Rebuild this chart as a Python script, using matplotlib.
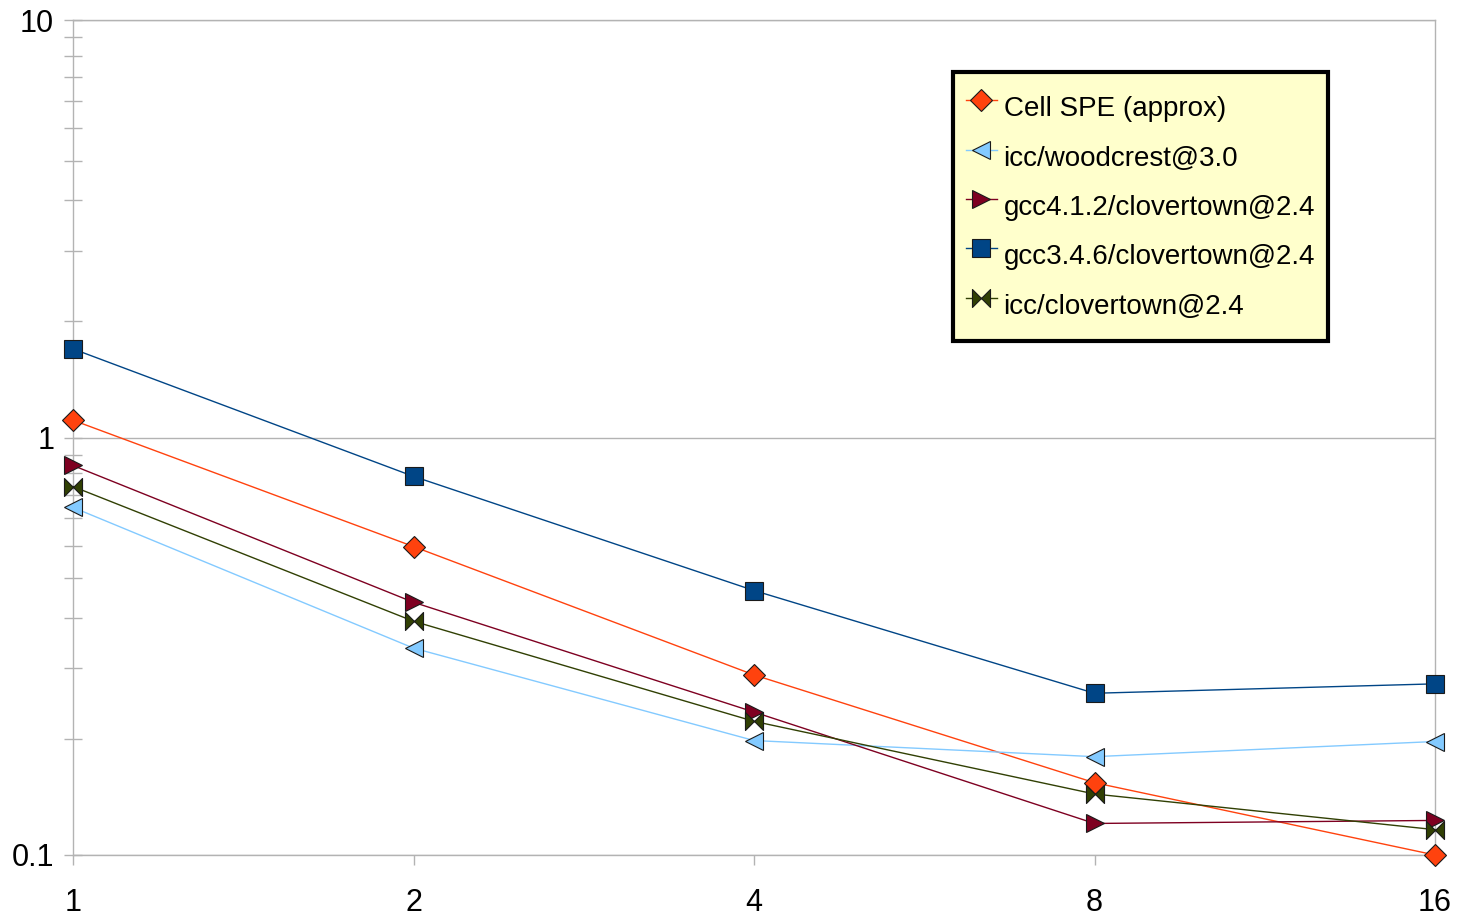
import numpy as np
import matplotlib
matplotlib.use('Agg')
from matplotlib import pyplot as plt
from matplotlib.path import Path
from matplotlib.ticker import NullFormatter, FixedLocator

plt.rcParams['font.family'] = ['Liberation Sans', 'DejaVu Sans']

threads = ['1', '2', '4', '8', '16']
cell_spe = [1.10, 0.548, 0.270, 0.149, 0.100]
icc_woodcrest = [0.680, 0.313, 0.188, 0.172, 0.187]
gcc412_clovertown = [0.857, 0.403, 0.220, 0.119, 0.121]
gcc346_clovertown = [1.63, 0.807, 0.430, 0.244, 0.257]
icc_clovertown = [0.763, 0.363, 0.209, 0.140, 0.115]

# the original tool puts minor ticks at linear steps inside each decade
minor_ticks = [0.1 + 0.09 * k for k in range(1, 10)] + [1 + 0.9 * k for k in range(1, 10)]

# bow-tie marker (two triangles meeting in the middle)
bowtie = Path([(-1, 1), (0, 0), (-1, -1), (-1, 1),
               (1, 1), (0, 0), (1, -1), (1, 1)],
              [Path.MOVETO, Path.LINETO, Path.LINETO, Path.CLOSEPOLY,
               Path.MOVETO, Path.LINETO, Path.LINETO, Path.CLOSEPOLY])

series = [
    ('Cell SPE (approx)', cell_spe, '#ff420e', 'D', 11),
    ('icc/woodcrest@3.0', icc_woodcrest, '#83caff', '<', 13),
    ('gcc4.1.2/clovertown@2.4', gcc412_clovertown, '#7e0021', '>', 13),
    ('gcc3.4.6/clovertown@2.4', gcc346_clovertown, '#004586', 's', 13),
    ('icc/clovertown@2.4', icc_clovertown, '#314004', bowtie, 13),
]

fig = plt.figure(figsize=(14.58, 9.16), dpi=100)
ax = fig.add_axes([73 / 1458, 1 - 855 / 916, (1435 - 73) / 1458, (855 - 20) / 916])

x = np.arange(len(threads))
for label, vals, color, marker, ms in series:
    ax.plot(x, vals, color=color, lw=1.0, marker=marker, markersize=ms,
            markerfacecolor=color, markeredgecolor='#1a1a1a', markeredgewidth=0.8,
            label=label, clip_on=False, zorder=3)

ax.set_yscale('log')
ax.set_ylim(0.1, 10)
ax.set_xlim(0, len(threads) - 1)
ax.set_xticks(x)
ax.set_xticklabels(threads)
ax.yaxis.set_major_locator(FixedLocator([0.1, 1, 10]))
ax.set_yticklabels(['0.1', '1', '10'])
ax.yaxis.set_minor_locator(FixedLocator(minor_ticks))
ax.yaxis.set_minor_formatter(NullFormatter())

grid_c = '#b3b3b3'
ax.grid(True, axis='y', which='major', color=grid_c, lw=1.0, zorder=0)
for s in ax.spines.values():
    s.set_color(grid_c)
    s.set_linewidth(1.0)

ax.tick_params(axis='y', which='both', direction='inout', length=13, color=grid_c,
               labelsize=22, pad=7, width=1.0)
ax.tick_params(axis='x', which='major', direction='out', length=7, color=grid_c,
               labelsize=22, pad=17, width=1.0)

leg = ax.legend(loc='upper left', bbox_to_anchor=(953 / 1458, 1 - 72 / 916),
                bbox_transform=fig.transFigure, fontsize=20, frameon=True,
                fancybox=False, edgecolor='black', facecolor='#ffffcc', framealpha=1,
                labelspacing=0.1, handlelength=1.12, handleheight=2.2,
                handletextpad=0.25, borderpad=0.45, borderaxespad=0)
leg.get_frame().set_linewidth(3)

plt.savefig('out.png', dpi=100)
